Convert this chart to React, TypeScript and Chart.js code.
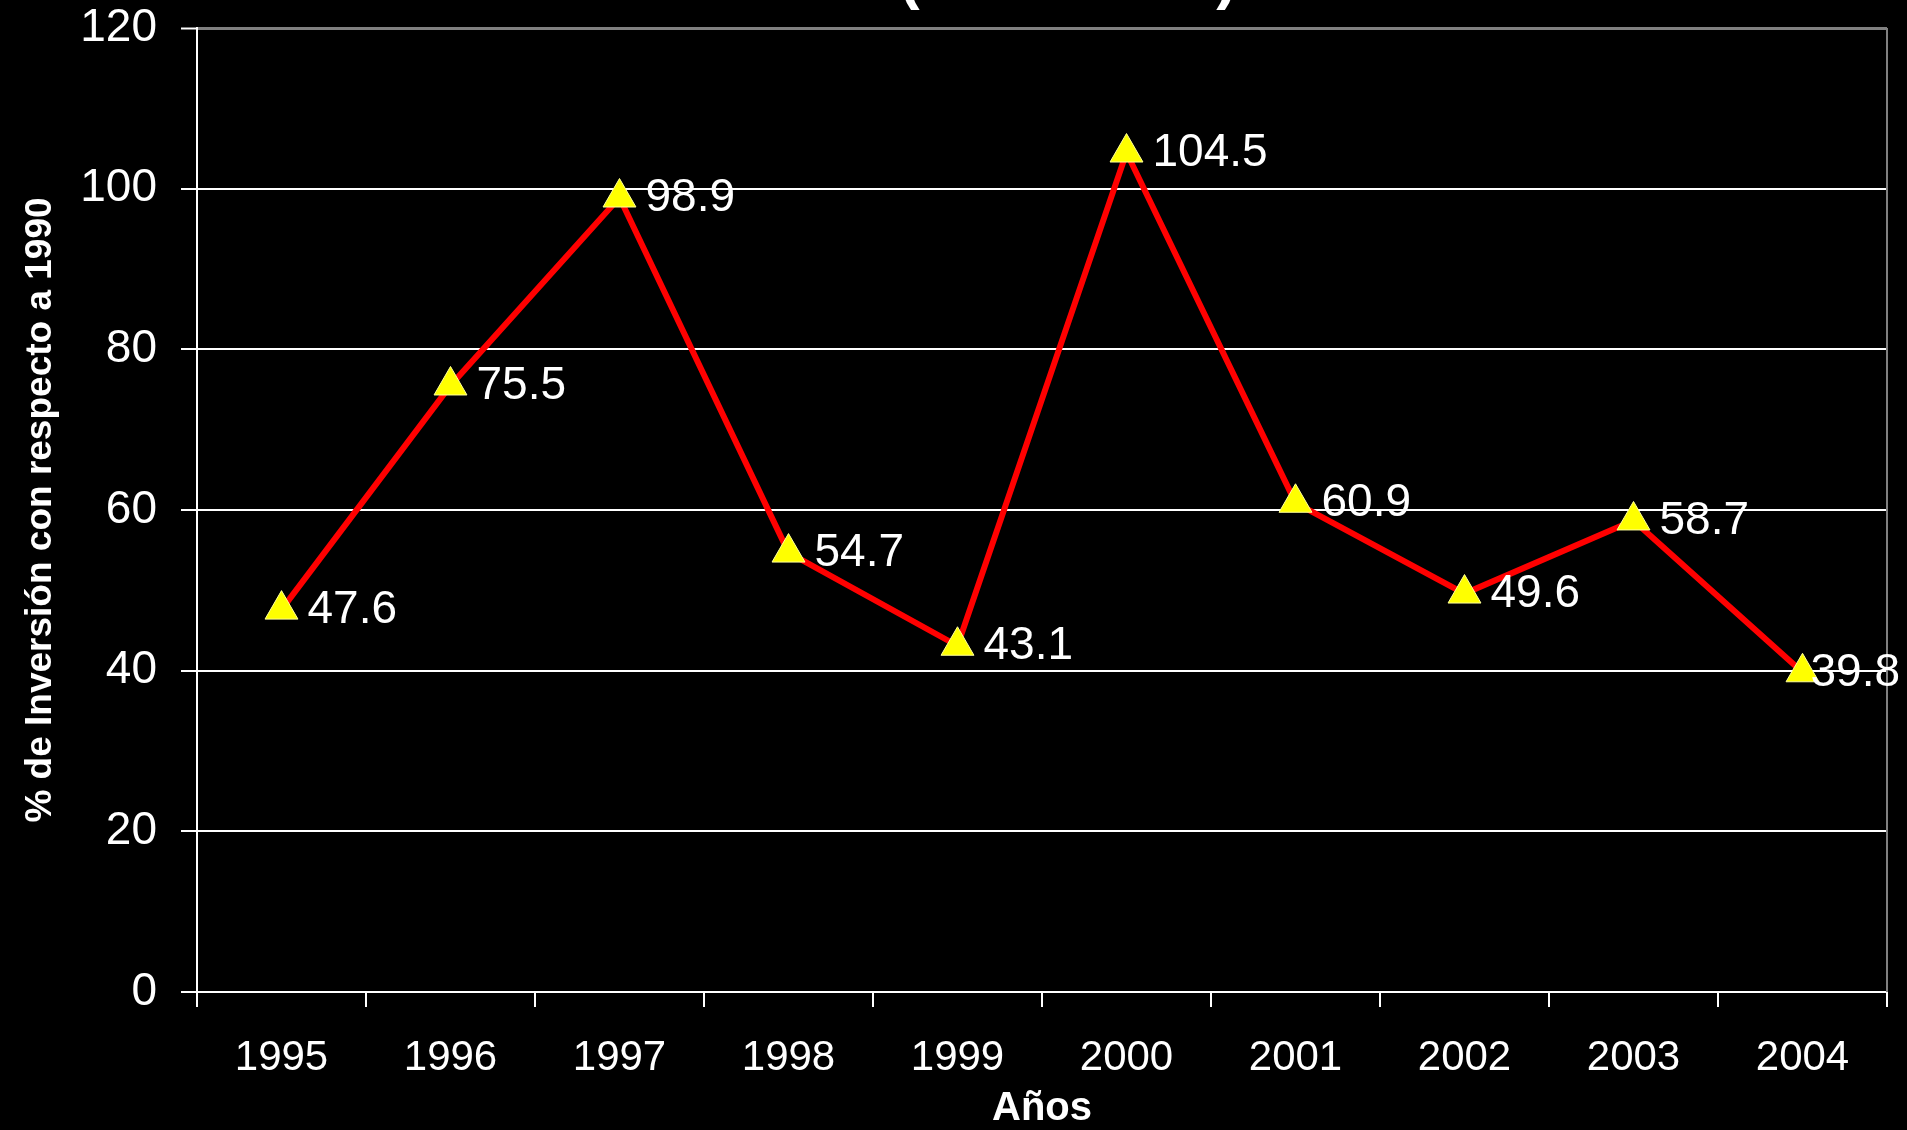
import React, { useEffect, useRef } from 'react';
import { Chart, registerables } from 'chart.js';

Chart.register(...registerables);

const categories = ['1995', '1996', '1997', '1998', '1999', '2000', '2001', '2002', '2003', '2004'];
const inversion = [47.6, 75.5, 98.9, 54.7, 43.1, 104.5, 60.9, 49.6, 58.7, 39.8];
const yMin = 0;
const yMax = 120;
const yStep = 20;
const titleText = '(1995-2004)';
const yTitle = '% de Inversión con respecto a 1990';
const xTitle = 'Años';

const FONT = "'Liberation Sans', Arial, Helvetica, sans-serif";

const framePlugin = {
  id: 'frame',
  beforeDraw(chart: any) {
    const { ctx, width, height } = chart;
    ctx.save();
    ctx.fillStyle = '#000000';
    ctx.fillRect(0, 0, width, height);
    ctx.restore();
  },
  beforeDatasetsDraw(chart: any) {
    const { ctx, chartArea } = chart;
    ctx.save();
    ctx.strokeStyle = '#808080';
    ctx.lineWidth = 2;
    ctx.beginPath();
    ctx.moveTo(chartArea.right, chartArea.top);
    ctx.lineTo(chartArea.right, chartArea.bottom);
    ctx.stroke();
    ctx.restore();
  },
  afterDraw(chart: any) {
    const { ctx } = chart;
    ctx.save();
    ctx.fillStyle = '#ffffff';
    ctx.font = `bold 62px ${FONT}`;
    ctx.textAlign = 'center';
    ctx.textBaseline = 'alphabetic';
    ctx.fillText(titleText, 1068, -3);
    ctx.restore();
  },
};

const labelPlugin = {
  id: 'valueLabels',
  afterDatasetsDraw(chart: any) {
    const { ctx } = chart;
    const meta = chart.getDatasetMeta(0);
    ctx.save();
    ctx.fillStyle = '#ffffff';
    ctx.font = `46px ${FONT}`;
    ctx.textAlign = 'left';
    ctx.textBaseline = 'middle';
    meta.data.forEach((pt: any, i: number) => {
      const txt = inversion[i].toFixed(1);
      const w = ctx.measureText(txt).width;
      const x = Math.min(pt.x + 26, chart.width - 7 - w);
      ctx.fillText(txt, x, pt.y + 1);
    });
    ctx.restore();
  },
};

export default function App() {
  const canvasRef = useRef<HTMLCanvasElement | null>(null);

  useEffect(() => {
    document.body.style.margin = '0';
    document.body.style.background = '#000';
    const canvas = canvasRef.current;
    if (!canvas) return;
    const chart = new Chart(canvas, {
      type: 'line',
      data: {
        labels: categories,
        datasets: [
          {
            data: inversion,
            borderColor: '#ff0000',
            borderWidth: 6,
            pointStyle: 'triangle',
            pointRadius: 19,
            pointHoverRadius: 19,
            pointBackgroundColor: '#ffff00',
            pointBorderColor: '#ffff99',
            pointBorderWidth: 1,
            tension: 0,
            fill: false,
            clip: false as any,
          },
        ],
      },
      options: {
        responsive: false,
        animation: false,
        layout: { padding: { top: 28, right: 18, left: 0, bottom: 0 } },
        plugins: {
          legend: { display: false },
          tooltip: { enabled: false },
          title: { display: false },
        },
        scales: {
          x: {
            offset: true,
            ticks: {
              color: '#ffffff',
              font: { size: 42, family: FONT },
              padding: 26,
              maxRotation: 0,
              autoSkip: false,
            },
            grid: {
              offset: true,
              drawOnChartArea: false,
              color: '#ffffff',
              lineWidth: 2,
              tickLength: 15,
            },
            border: { color: '#ffffff', width: 2 },
            title: {
              display: true,
              text: xTitle,
              color: '#ffffff',
              font: { size: 40, weight: 'bold', family: FONT, lineHeight: 1 },
              padding: { top: 0, bottom: 1 },
            },
            afterFit(scale: any) {
              scale.height = 138;
              scale.paddingLeft = 0;
              scale.paddingRight = 0;
            },
          },
          y: {
            min: yMin,
            max: yMax,
            ticks: {
              stepSize: yStep,
              color: '#ffffff',
              font: { size: 46, family: FONT },
              padding: 24,
            },
            grid: {
              color: (c: any) => (c.tick && c.tick.value === yMax ? '#808080' : '#ffffff'),
              lineWidth: (c: any) => (c.tick && c.tick.value === yMax ? 3 : 2),
              tickColor: '#ffffff',
              tickLength: 16,
              tickWidth: 2,
            },
            border: { color: '#ffffff', width: 2 },
            title: {
              display: true,
              text: yTitle,
              color: '#ffffff',
              font: { size: 37, weight: 'bold', family: FONT, lineHeight: 1 },
              padding: { top: 22, bottom: 0 },
            },
            afterFit(scale: any) {
              scale.width = 197;
              scale.paddingTop = 0;
              scale.paddingBottom = 0;
            },
          },
        },
      } as any,
      plugins: [framePlugin, labelPlugin],
    });
    return () => chart.destroy();
  }, []);

  return (
    <div style={{ position: 'fixed', left: 0, top: 0, width: 1907, height: 1130, background: '#000' }}>
      <canvas ref={canvasRef} width={1907} height={1130} style={{ display: 'block' }} />
    </div>
  );
}
